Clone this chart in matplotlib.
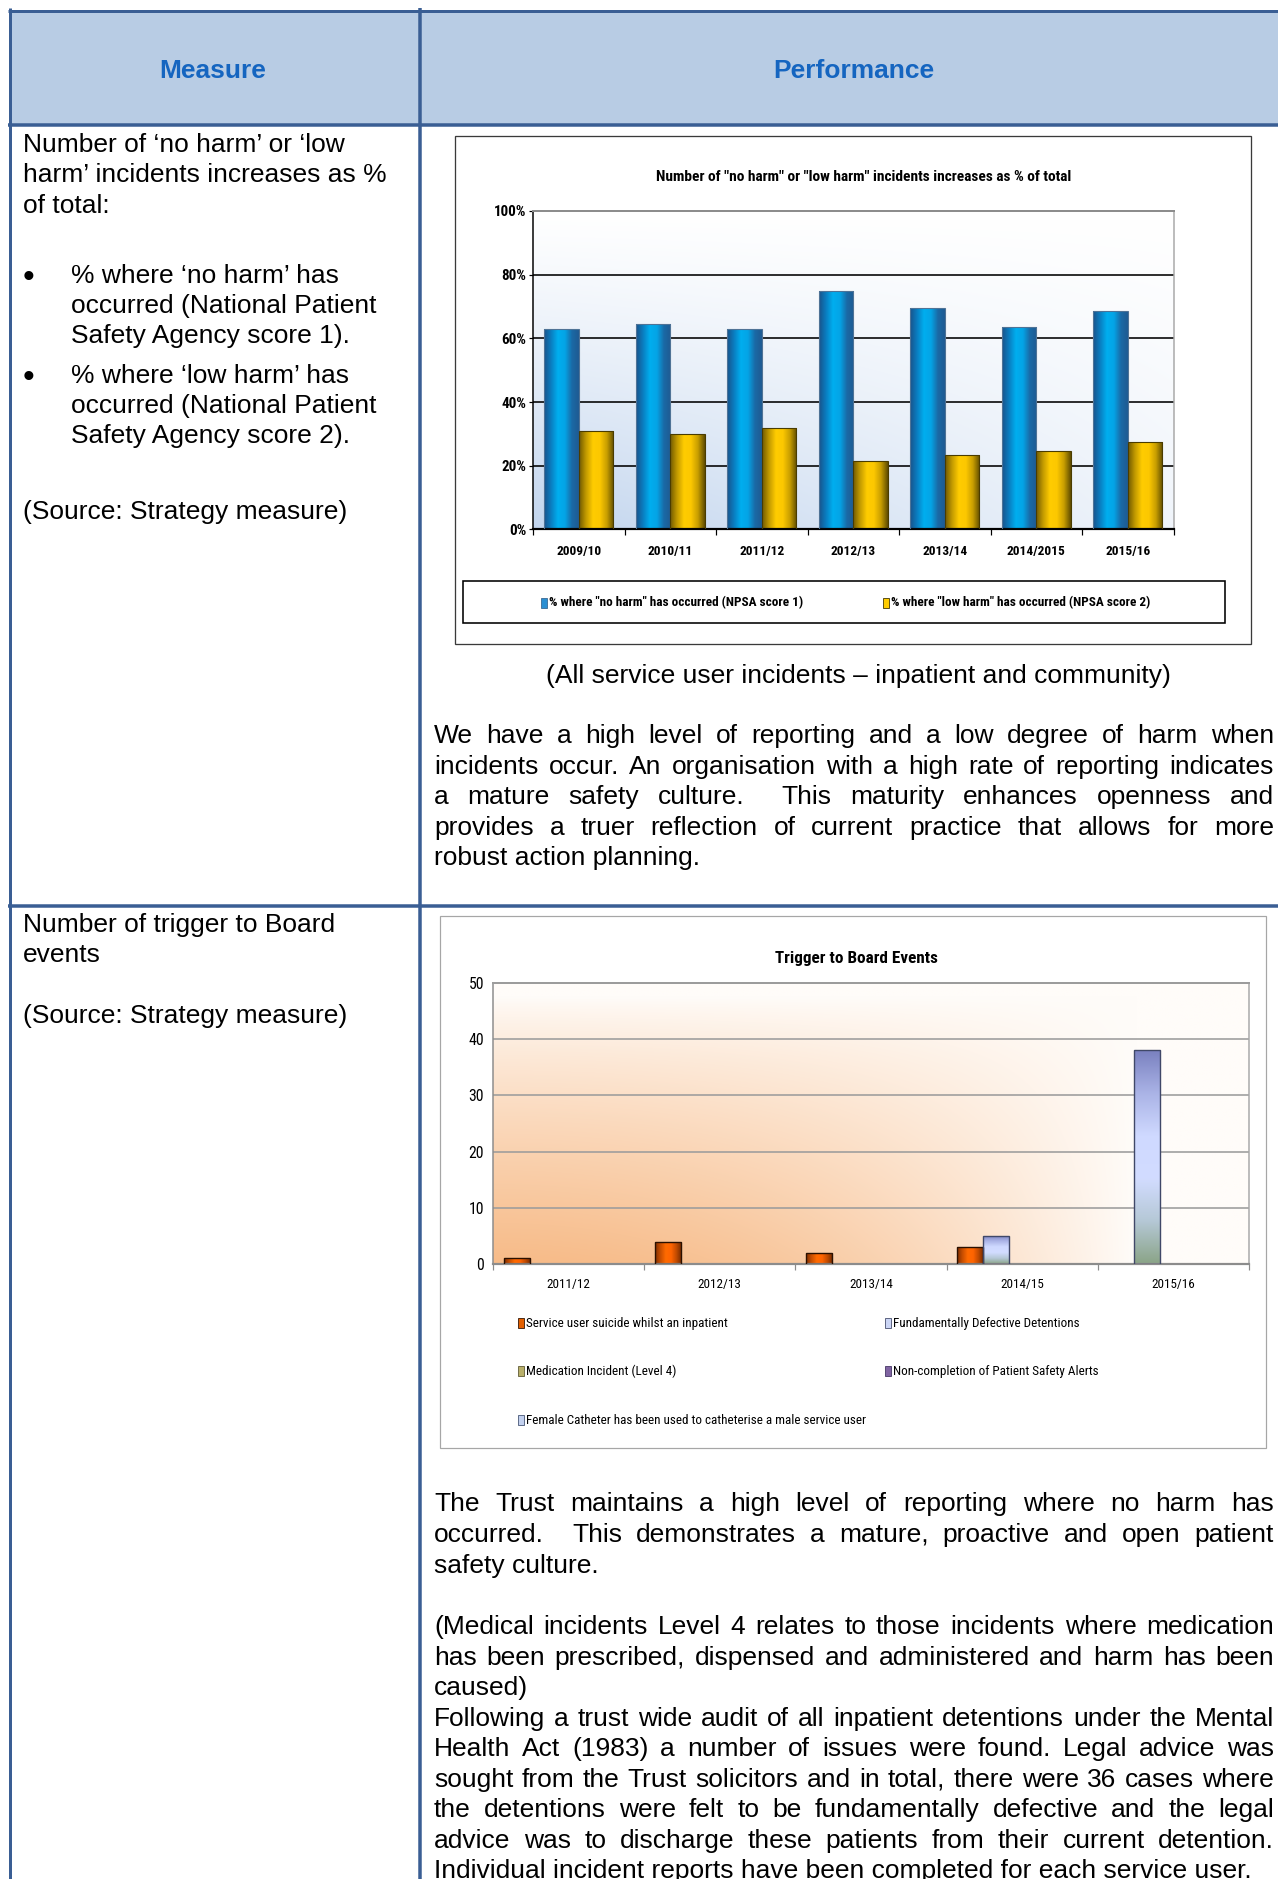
import numpy as np
import matplotlib
matplotlib.use("Agg")
import matplotlib.pyplot as plt
from matplotlib import font_manager as fm
from matplotlib.patches import Rectangle
from matplotlib.lines import Line2D
from matplotlib.colors import LinearSegmentedColormap, to_rgb
from matplotlib.ticker import FuncFormatter, FixedLocator

W, H = 1278, 1879
PT = 0.72  # points per pixel at 100 dpi

BODY = ["Liberation Sans", "DejaVu Sans"]
plt.rcParams["font.family"] = BODY

# pick a narrow face for the chart labels, whatever is installed
_fonts = {(f.name, str(f.stretch)) for f in fm.fontManager.ttflist}
_names = {n for n, s in _fonts}
NARROW, NSTRETCH = ["Liberation Sans", "DejaVu Sans"], "normal"
for cand in ["Liberation Sans Narrow", "Arial Narrow", "Roboto Condensed"]:
    if cand in _names:
        NARROW = [cand, "DejaVu Sans"]
        break
else:
    for fam in ["Roboto", "Noto Sans", "Open Sans", "DejaVu Sans"]:
        if (fam, "condensed") in _fonts:
            NARROW, NSTRETCH = [fam, "DejaVu Sans"], "condensed"
            break

# ---- chart 1: no harm / low harm share ----
years_a = ["2009/10", "2010/11", "2011/12", "2012/13", "2013/14", "2014/2015", "2015/16"]
no_harm = [63, 64.5, 63, 75, 69.5, 63.5, 68.5]
low_harm = [31, 30, 32, 21.5, 23.5, 24.5, 27.5]
series_a = ['% where "no harm" has occurred (NPSA score 1)',
            '% where "low harm" has occurred (NPSA score 2)']

# ---- chart 2: trigger to board events ----
years_b = ["2011/12", "2012/13", "2013/14", "2014/15", "2015/16"]
suicide = [1, 4, 2, 3, 0]
defective = [0, 0, 0, 5, 38]
medication = [0, 0, 0, 0, 0]
alerts = [0, 0, 0, 0, 0]
catheter = [0, 0, 0, 0, 0]
series_b = ["Service user suicide whilst an inpatient",
            "Fundamentally Defective Detentions",
            "Medication Incident (Level 4)",
            "Non-completion of Patient Safety Alerts",
            "Female Catheter has been used to catheterise a male service user"]

fig = plt.figure(figsize=(W / 100, H / 100), dpi=100)
fig.patch.set_facecolor("white")
renderer = fig.canvas.get_renderer()


def X(px):
    return px / W


def Y(py):
    return 1 - py / H


def text_width(s, size, **kw):
    t = fig.text(0, 0, s, fontsize=size, **kw)
    w = t.get_window_extent(renderer).width
    t.remove()
    return w


def fit(s, width, **kw):
    return 10 * width / text_width(s, 10, **kw)


def hline(y, x0, x1, lw, color):
    fig.add_artist(Line2D([X(x0), X(x1)], [Y(y), Y(y)], lw=lw, color=color,
                          solid_capstyle="butt", zorder=5))


def vline(x, y0, y1, lw, color):
    fig.add_artist(Line2D([X(x), X(x)], [Y(y0), Y(y1)], lw=lw, color=color,
                          solid_capstyle="butt", zorder=5))


def box(x0, y0, x1, y1, zorder=-1, **kw):
    fig.add_artist(Rectangle((X(x0), Y(y1)), X(x1) - X(x0), Y(y0) - Y(y1),
                             transform=fig.transFigure, zorder=zorder, **kw))


def body(x, y, s, size=19, **kw):
    fig.text(X(x), Y(y), s, fontsize=size, family=BODY, va="baseline", **kw)


def narrow(x, y, s, size, **kw):
    fig.text(X(x), Y(y), s, fontsize=size, family=NARROW, fontstretch=NSTRETCH, **kw)


def nfit(s, width, **kw):
    return fit(s, width, family=NARROW, fontstretch=NSTRETCH, **kw)


def justified(lines, y0, lead=30.6, x0=434, x1=1274):
    for i, line in enumerate(lines):
        y = y0 + i * lead
        if i == len(lines) - 1:
            body(x0, y, line)
            continue
        words = line.split(" ")
        widths = [text_width(w, 19, family=BODY) if w else 0 for w in words]
        gap = (x1 - x0 - sum(widths)) / (len(words) - 1)
        x = x0
        for w, wd in zip(words, widths):
            if w:
                body(x, y, w)
            x += wd + gap


def ramp(stops):
    return LinearSegmentedColormap.from_list("r", stops)


def shade(ax, bar, cmap, vertical=False):
    x0, y0 = bar.get_xy()
    w, h = bar.get_width(), bar.get_height()
    if h <= 0:
        return
    g = np.linspace(0, 1, 256)
    g = g.reshape(-1, 1) if vertical else g.reshape(1, -1)
    im = ax.imshow(g, cmap=cmap, extent=[x0, x0 + w, y0, y0 + h], origin="lower",
                   aspect="auto", zorder=2.5, interpolation="bilinear")
    im.set_clip_path(bar)


def backdrop(ax, t, color, base="#FFFFFF"):
    c = np.array(to_rgb(color))
    b = np.array(to_rgb(base))
    img = b * (1 - t[..., None]) + c * t[..., None]
    ax.imshow(img, extent=[0, 1, 0, 1], transform=ax.transAxes, origin="lower",
              aspect="auto", zorder=-10, interpolation="bilinear")


def style_ticks(labels, size, weight="normal"):
    for lab in labels:
        lab.set_fontfamily(NARROW)
        lab.set_fontstretch(NSTRETCH)
        lab.set_fontweight(weight)
        lab.set_fontsize(size)


# ---- table frame ----
TB = "#3A5E94"
box(11, 11, W, 124, facecolor="#B8CCE4", edgecolor="none")
hline(11, 8, W, 3 * PT, TB)
hline(124.5, 8, W, 3.5 * PT, TB)
hline(906, 8, W, 3.5 * PT, TB)
vline(9.5, 8, H, 3 * PT, TB)
vline(420.5, 8, H, 3.5 * PT, TB)

fig.text(X(213), Y(78), "Measure", fontsize=19, fontweight="bold", color="#1565C0",
         ha="center", va="baseline", family=BODY)
fig.text(X(854), Y(78), "Performance", fontsize=19, fontweight="bold", color="#1565C0",
         ha="center", va="baseline", family=BODY)

# ---- left column ----
body(23, 152, "Number of ‘no harm’ or ‘low")
body(23, 182.5, "harm’ incidents increases as %")
body(23, 213, "of total:")
for yb, lines in [(283, ["% where ‘no harm’ has", "occurred (National Patient",
                         "Safety Agency score 1)."]),
                  (383, ["% where ‘low harm’ has", "occurred (National Patient",
                         "Safety Agency score 2)."])]:
    body(29, yb + 4, "•", size=24, ha="center")
    for i, s in enumerate(lines):
        body(71, yb + i * 30, s)
body(23, 519, "(Source: Strategy measure)")

body(23, 932, "Number of trigger to Board")
body(23, 962.5, "events")
body(23, 1023, "(Source: Strategy measure)")

# ---- right column text ----
body(858, 683, "(All service user incidents – inpatient and community)", ha="center")
justified(["We have a high level of reporting and a low degree of harm when",
           "incidents occur. An organisation with a high rate of reporting indicates",
           "a mature safety culture.  This maturity enhances openness and",
           "provides a truer reflection of current practice that allows for more",
           "robust action planning."], 743)
justified(["The Trust maintains a high level of reporting where no harm has",
           "occurred.  This demonstrates a mature, proactive and open patient",
           "safety culture."], 1511, lead=30.8)
justified(["(Medical incidents Level 4 relates to those incidents where medication",
           "has been prescribed, dispensed and administered and harm has been",
           "caused)"], 1634, lead=30.6)
justified(["Following a trust wide audit of all inpatient detentions under the Mental",
           "Health Act (1983) a number of issues were found. Legal advice was",
           "sought from the Trust solicitors and in total, there were 36 cases where",
           "the detentions were felt to be fundamentally defective and the legal",
           "advice was to discharge these patients from their current detention.",
           "Individual incident reports have been completed for each service user."],
          1726, lead=30.4)

# ---- chart 1 ----
box(455, 136, 1251, 644, facecolor="white", edgecolor="#3A3A3A", lw=1.3 * PT)
ax1 = fig.add_axes([X(533), Y(529.5), X(1173.5) - X(533), Y(211) - Y(529.5)])
gx, gy = np.meshgrid(np.linspace(0, 1, 200), np.linspace(0, 1, 200))
backdrop(ax1, (1 - gy) ** 1.2 * (1 - 0.75 * gx), "#C2D5EE")

xa = np.arange(len(years_a))
wa = 0.378
bars_no = ax1.bar(xa - wa / 2, no_harm, wa, facecolor="none", edgecolor="#4F7396",
                  lw=0.8, zorder=3)
bars_low = ax1.bar(xa + wa / 2, low_harm, wa, facecolor="none", edgecolor="#4A3C00",
                   lw=0.8, zorder=3)
blue = ramp(["#19528A", "#0A7DC0", "#00AEEF", "#04A4E6", "#1A6AA6", "#1F5A92"])
gold = ramp(["#6F5800", "#C29A00", "#FFCC00", "#FCC800", "#C89E00", "#5F4C00"])
for b in bars_no:
    shade(ax1, b, blue)
for b in bars_low:
    shade(ax1, b, gold)

ax1.set_xlim(-0.5, len(years_a) - 0.5)
ax1.set_ylim(0, 100)
ax1.yaxis.set_major_locator(FixedLocator([0, 20, 40, 60, 80, 100]))
ax1.yaxis.set_major_formatter(FuncFormatter(lambda v, p: f"{v:.0f}%"))
ax1.set_xticks(xa)
ax1.set_xticklabels(years_a)
ax1.xaxis.set_minor_locator(FixedLocator(np.arange(-0.5, len(years_a), 1.0)))
ax1.yaxis.grid(True, color="black", lw=1.6 * PT)
ax1.set_axisbelow(True)
for side, c, lw in [("left", "black", 1.5), ("bottom", "black", 2.2),
                    ("top", "#8C8C8C", 2.0), ("right", "#A8A8A8", 1.5)]:
    ax1.spines[side].set_color(c)
    ax1.spines[side].set_linewidth(lw * PT)
tick_a = nfit("2009/10", 45, weight="bold")
ax1.tick_params(axis="x", which="major", length=0, pad=16 * PT)
ax1.tick_params(axis="x", which="minor", length=6 * PT, width=1.2 * PT, color="black")
ax1.tick_params(axis="y", length=4 * PT, width=1.2 * PT, pad=3 * PT)
style_ticks(ax1.get_xticklabels(), tick_a, "bold")
style_ticks(ax1.get_yticklabels(), tick_a * 1.12, "bold")

title_a = 'Number of "no harm" or "low harm" incidents increases as % of total'
narrow(864, 181, title_a, nfit(title_a, 416, weight="bold"), weight="bold",
       ha="center", va="baseline")

box(463, 581, 1225, 623, zorder=1, facecolor="white", edgecolor="black", lw=1.6 * PT)
leg_a = nfit(series_a[0], 255, weight="bold")
for xk, face, edge, lab in [(541, "#2A8FD2", "#35658F", series_a[0]),
                            (883, "#FFCC00", "#3A3000", series_a[1])]:
    box(xk, 598, xk + 6, 608, zorder=2, facecolor=face, edgecolor=edge, lw=0.8 * PT)
    narrow(xk + 8, 603, lab, leg_a, weight="bold", va="center")

# ---- chart 2 ----
box(440, 916, 1266, 1448, facecolor="white", edgecolor="#A6A6A6", lw=1.2 * PT)
ax2 = fig.add_axes([X(493), Y(1264), X(1249) - X(493), Y(983) - Y(1264)])
fx = np.clip(1 - (gx / 0.85) ** 2, 0, 1)
fyy = np.clip(1 - gy / 0.95, 0, 1) ** 0.8
backdrop(ax2, fx * fyy, "#F7BB88", base="#FFFCF9")

xb = np.arange(len(years_b))
wb = 0.172
values_b = [suicide, defective, medication, alerts, catheter]
faces_b = ["#E35F00", "#CBD5F5", "#B9B06A", "#8064A2", "#C3D1EF"]
edges_b = ["#2A1000", "#404868", "#5A5530", "#403060", "#405070"]
bar_sets = []
for i, vals in enumerate(values_b):
    bs = ax2.bar(xb + (i - 2) * wb, vals, wb, facecolor="none", edgecolor=edges_b[i],
                 lw=[1.0 if v > 0 else 0 for v in vals], zorder=3)
    bar_sets.append(bs)
orange = ramp(["#7E2E00", "#C84E00", "#FF6A00", "#FF6400", "#C04A00", "#6E2800"])
lavender = ramp(["#8AA487", "#B5C8D6", "#D2DCFF", "#CFD9FF", "#AAB3E6", "#7A81C0"])
for b in bar_sets[0]:
    shade(ax2, b, orange)
for b in bar_sets[1]:
    shade(ax2, b, lavender, vertical=True)

ax2.set_xlim(-0.5, len(years_b) - 0.5)
ax2.set_ylim(0, 50)
ax2.yaxis.set_major_locator(FixedLocator([0, 10, 20, 30, 40, 50]))
ax2.set_xticks(xb)
ax2.set_xticklabels(years_b)
ax2.xaxis.set_minor_locator(FixedLocator(np.arange(-0.5, len(years_b), 1.0)))
ax2.yaxis.grid(True, color="#9C9C9C", lw=1.6 * PT)
ax2.set_axisbelow(True)
for side, c, lw in [("left", "#8C8C8C", 1.5), ("bottom", "#8C8C8C", 2.2),
                    ("top", "#9C9C9C", 2.0), ("right", "#A8A8A8", 1.5)]:
    ax2.spines[side].set_color(c)
    ax2.spines[side].set_linewidth(lw * PT)
tick_b = nfit("2011/12", 43)
ax2.tick_params(axis="x", which="major", length=0, pad=14 * PT)
ax2.tick_params(axis="x", which="minor", length=6 * PT, width=1.2 * PT, color="#8C8C8C")
ax2.tick_params(axis="y", length=0, pad=9 * PT)
style_ticks(ax2.get_xticklabels(), tick_b)
style_ticks(ax2.get_yticklabels(), tick_b * 1.2)

title_b = "Trigger to Board Events"
narrow(856, 963, title_b, nfit(title_b, 163, weight="bold"), weight="bold",
       ha="center", va="baseline")

leg_b = nfit(series_b[0], 199)
spots = [(518, 1323), (885, 1323), (518, 1371), (885, 1371), (518, 1420)]
for (xk, yk), face, edge, lab in zip(spots, faces_b, edges_b, series_b):
    box(xk, yk - 5, xk + 6, yk + 5, zorder=2, facecolor=face, edgecolor=edge, lw=0.8 * PT)
    narrow(xk + 8, yk, lab, leg_b, va="center")

fig.savefig("out.png", dpi=100)
